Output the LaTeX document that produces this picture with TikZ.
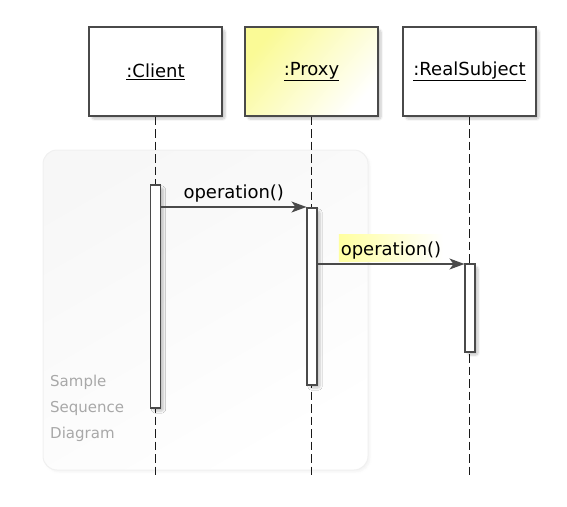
\documentclass[tikz,border=0pt]{standalone}
\usepackage{fontspec}
\setmainfont{DejaVu Sans}
\usetikzlibrary{arrows.meta,shadows.blur,calc}
\definecolor{linegray}{HTML}{4A4A4A}
\definecolor{lblgray}{HTML}{A8A8A8}
\definecolor{hlyellow}{HTML}{FFFFA0}
\definecolor{proxyyellow}{HTML}{FAFA96}
\definecolor{frameline}{HTML}{F0F0F0}
\begin{document}
\begin{tikzpicture}[x=1pt,y=-1pt,
  softshadow/.style={blur shadow={shadow xshift=3pt, shadow yshift=-3pt, shadow opacity=22, shadow blur steps=6, shadow blur extra rounding=2pt}},
  objbox/.style={draw=linegray, line width=1.2pt, fill=white, minimum width=133pt, minimum height=89pt, inner sep=0pt, font=\fontsize{18}{21}\selectfont, softshadow},
  actbar/.style={draw=linegray, line width=1.1pt, fill=white, minimum width=10pt, inner sep=0pt, softshadow},
  lifeline/.style={draw=black!90, line width=1.7pt, dash pattern=on 8.5pt off 4pt},
  msg/.style={draw=linegray, line width=1.3pt, -{Stealth[length=15pt,width=11pt,inset=4pt]}},
  msglbl/.style={font=\fontsize{18}{21}\selectfont, inner sep=0pt, anchor=base},
  notetxt/.style={text=lblgray, font=\fontsize{15}{18}\selectfont, inner sep=0pt, anchor=base west},
  framebox/.style={draw=frameline, line width=1pt, top color=black!3, bottom color=white, shading angle=30, rounded corners=14pt, minimum width=325pt, minimum height=320pt, inner sep=0pt,
    blur shadow={shadow xshift=2pt, shadow yshift=-2pt, shadow opacity=5, shadow blur steps=5}}
]
\useasboundingbox (0,0) rectangle (567,506);

% background frame
\node[framebox] (frame) at (205.5,310) {};
\node[notetxt] (n1) at (50,386) {Sample};
\node[notetxt] (n2) at (50,412) {Sequence};
\node[notetxt] (n3) at (50,438) {Diagram};

% objects
\node[objbox] (client) at (155.5,71.5) {\underline{:Client}};
\node[objbox, top color=proxyyellow, middle color=white, bottom color=white, shading angle=50] (proxy) at (311.5,71.5) {\underline{:Proxy}};
\node[objbox] (real) at (469.5,71.5) {\underline{:RealSubject}};

% lifelines
\coordinate (bottom) at (0,479);
\draw[lifeline] (client.south) -- (client.south |- bottom);
\draw[lifeline] (proxy.south) -- (proxy.south |- bottom);
\draw[lifeline] (real.south) -- (real.south |- bottom);

% activations
\node[actbar, minimum height=223pt] (cact) at (155.5,296.5) {};
\node[actbar, minimum height=177pt] (pact) at (312,296.5) {};
\node[actbar, minimum height=88pt] (ract) at (470,308) {};

% messages
\coordinate (m1) at (0,207);
\coordinate (m2) at (0,264);
\draw[msg] (cact.east |- m1) -- node[midway, msglbl, yshift=9pt] (l1) {operation()} (pact.west |- m1);
\draw[msg] (pact.east |- m2) -- node[midway, msglbl, yshift=9pt, left color=hlyellow, right color=white, inner xsep=2pt, text height=21pt, text depth=6pt] (l2) {operation()} (ract.west |- m2);
\end{tikzpicture}
\end{document}
